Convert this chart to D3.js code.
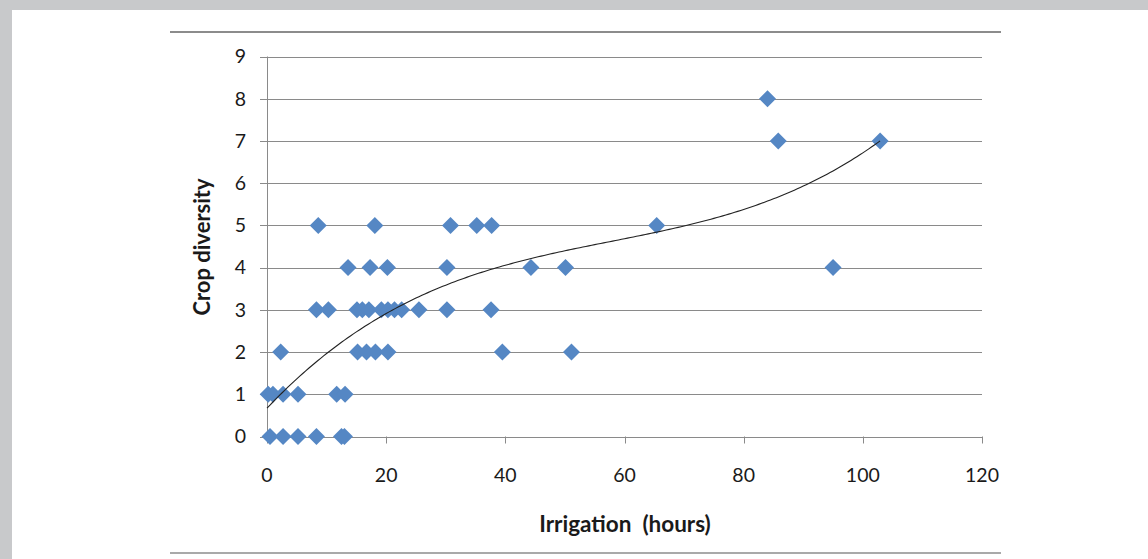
<!DOCTYPE html>
<html>
<head>
<meta charset="utf-8">
<script src="https://cdn.jsdelivr.net/npm/d3@7"></script>
<style>
  body { margin: 0; background: #fff; }
  text { font-family: Lato, "Open Sans", sans-serif; fill: #1a1a1a; }
</style>
</head>
<body>
<div id="chart"></div>
<script>
// points, grouped by crop diversity level
var irrigation = [
    0.5, 2.7, 5.2, 8.3, 12.5, 13,
    0.2, 1.0, 2.7, 5.2, 11.7, 13.1,
    2.3, 15.2, 16.7, 18.2, 20.3, 39.5, 51.1,
    8.3, 10.3, 15.1, 16.0, 17.1, 19.2, 20.3, 21.4, 22.6, 25.5, 30.2, 37.6,
    13.6, 17.3, 20.2, 30.2, 44.3, 50.1, 95.0,
    8.6, 18.1, 30.8, 35.2, 37.7, 65.4,
    85.8, 102.9,
    84.0
];
var diversity = [
    0, 0, 0, 0, 0, 0,
    1, 1, 1, 1, 1, 1,
    2, 2, 2, 2, 2, 2, 2,
    3, 3, 3, 3, 3, 3, 3, 3, 3, 3, 3, 3,
    4, 4, 4, 4, 4, 4, 4,
    5, 5, 5, 5, 5, 5,
    7, 7,
    8
];
var xTicks = [0, 20, 40, 60, 80, 100, 120];
var yTicks = [0, 1, 2, 3, 4, 5, 6, 7, 8, 9];
// cubic trendline y = a + b x + c x^2 + d x^3 (estimated from the drawn curve)
var trendCoef = [0.67, 0.14924, -0.0020994, 0.000012118];

var W = 1148, H = 559;
var plot = {left: 267, right: 982, top: 56.5, bottom: 436.5};

var svg = d3.select("#chart").append("svg")
    .attr("width", W)
    .attr("height", H);

// frame
svg.append("rect").attr("x", 0).attr("y", 0).attr("width", W).attr("height", 10).attr("fill", "#c8c9cb");
svg.append("rect").attr("x", 0).attr("y", 0).attr("width", 12).attr("height", H).attr("fill", "#c8c9cb");
svg.append("line").attr("x1", 170).attr("x2", 1001).attr("y1", 32).attr("y2", 32)
    .attr("stroke", "#8c8c8c").attr("stroke-width", 2);
svg.append("line").attr("x1", 170).attr("x2", 1001).attr("y1", 553).attr("y2", 553)
    .attr("stroke", "#8c8c8c").attr("stroke-width", 1.5);

var x = d3.scaleLinear().domain([0, 120]).range([plot.left, plot.right]);
var y = d3.scaleLinear().domain([0, 9]).range([plot.bottom, plot.top]);

// gridlines
svg.append("g")
    .selectAll("line")
    .data(yTicks)
    .enter().append("line")
    .attr("x1", plot.left - 7)
    .attr("x2", plot.right)
    .attr("y1", function (d) { return Math.round(y(d)) + 0.5; })
    .attr("y2", function (d) { return Math.round(y(d)) + 0.5; })
    .attr("stroke", "#8a8a8a")
    .attr("stroke-width", 1);

// y axis line
svg.append("line")
    .attr("x1", plot.left + 0.5).attr("x2", plot.left + 0.5)
    .attr("y1", plot.top).attr("y2", plot.bottom)
    .attr("stroke", "#8a8a8a");

// x tick marks
svg.append("g")
    .selectAll("line")
    .data(xTicks)
    .enter().append("line")
    .attr("x1", function (d) { return Math.round(x(d)) + 0.5; })
    .attr("x2", function (d) { return Math.round(x(d)) + 0.5; })
    .attr("y1", plot.bottom)
    .attr("y2", plot.bottom + 7)
    .attr("stroke", "#8a8a8a");

// tick labels
svg.append("g")
    .selectAll("text")
    .data(yTicks)
    .enter().append("text")
    .attr("x", 246)
    .attr("y", function (d) { return y(d); })
    .attr("dy", "0.35em")
    .attr("text-anchor", "end")
    .style("font-size", "19.5px")
    .text(function (d) { return d; });

svg.append("g")
    .selectAll("text")
    .data(xTicks)
    .enter().append("text")
    .attr("x", function (d) { return x(d); })
    .attr("y", 482)
    .attr("text-anchor", "middle")
    .style("font-size", "19.5px")
    .text(function (d) { return d; });

// axis titles
svg.append("text")
    .attr("x", 625)
    .attr("y", 532)
    .attr("text-anchor", "middle")
    .style("font-size", "22.5px")
    .style("font-weight", "bold")
    .style("white-space", "pre")
    .text("Irrigation  (hours)");

svg.append("text")
    .attr("transform", "translate(210,247) rotate(-90)")
    .attr("text-anchor", "middle")
    .style("font-size", "22px")
    .style("font-weight", "bold")
    .text("Crop diversity");

// points
var pts = irrigation.map(function (v, i) { return [v, diversity[i]]; });
svg.append("g")
    .selectAll("path")
    .data(pts)
    .enter().append("path")
    .attr("d", "M0,-8.5L8.5,0L0,8.5L-8.5,0Z")
    .attr("transform", function (d) { return "translate(" + x(d[0]) + "," + y(d[1]) + ")"; })
    .attr("fill", "#5587c4");

// trendline
function trend(v) {
    return trendCoef[0] + trendCoef[1] * v + trendCoef[2] * v * v + trendCoef[3] * v * v * v;
}
var xmax = d3.max(irrigation);
var curve = d3.range(0, xmax, 0.5).concat([xmax]).map(function (v) { return [x(v), y(trend(v))]; });
svg.append("path")
    .attr("d", d3.line()(curve))
    .attr("fill", "none")
    .attr("stroke", "#222")
    .attr("stroke-width", 1.1);
</script>
</body>
</html>
